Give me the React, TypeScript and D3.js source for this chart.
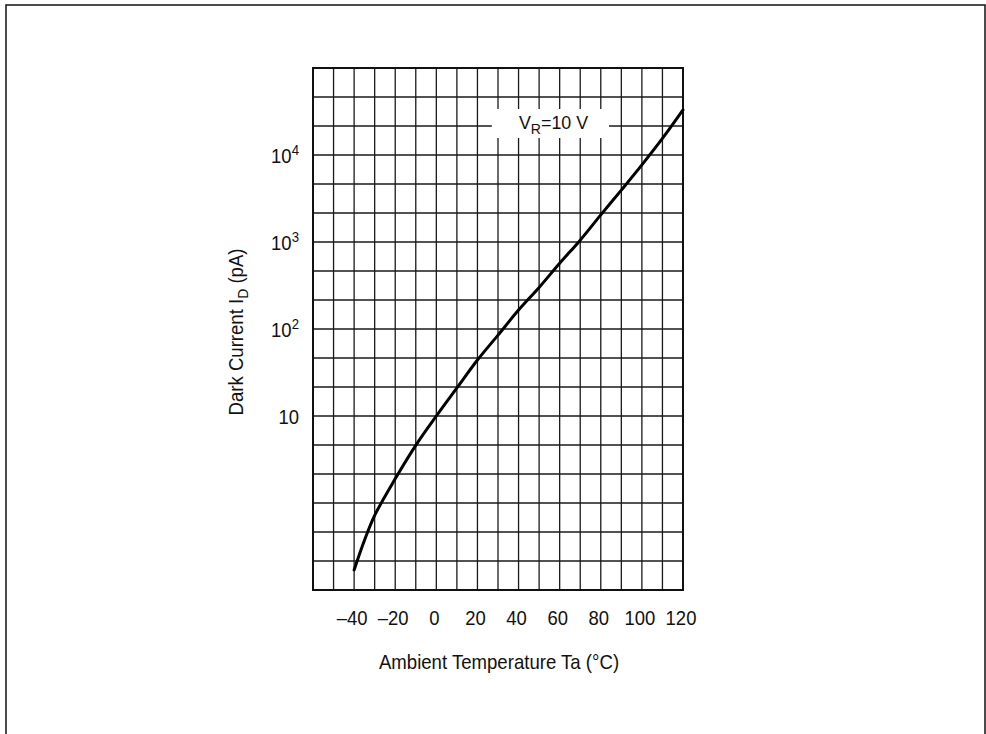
import React, { useEffect, useRef } from "react";
import * as d3 from "d3";

// ---------- Data ----------
const temperatures = [-40, -35, -30, -20, -10, 0, 10, 20, 30, 40, 50, 60, 70, 80, 90, 100, 110, 120];
const darkCurrent = [0.17, 0.37, 0.72, 1.9, 4.6, 10, 21, 44, 85, 165, 300, 570, 1050, 2050, 3950, 7700, 15500, 33000];

const xTicks = [-40, -20, 0, 20, 40, 60, 80, 100, 120];
const yDecadeTicks = [10, 100, 1000, 10000];
const yDecadeLabels = ["10", "10", "10", "10"];
const yDecadeExps = ["", "2", "3", "4"];

const legendText = { main: "V", sub: "R", rest: "=10 V" };

const FONT = "'Liberation Sans', Arial, Helvetica, sans-serif";

const W = 986;
const H = 734;

// condensed look: draw text horizontally squeezed
const addText = (
  parent: d3.Selection<SVGGElement, unknown, null, undefined>,
  x: number,
  y: number,
  size: number,
  sx: number,
  anchor: string,
  rotate = 0
) =>
  parent
    .append("text")
    .attr("transform", `translate(${x},${y}) rotate(${rotate}) scale(${sx},1)`)
    .attr("text-anchor", anchor)
    .attr("font-family", FONT)
    .attr("font-size", size)
    .attr("fill", "#111");

const App: React.FC = () => {
  const svgRef = useRef<SVGSVGElement | null>(null);

  useEffect(() => {
    document.body.style.margin = "0";
    const svg = d3.select(svgRef.current);
    svg.selectAll("*").remove();

    const left = 313;
    const right = 683;
    const top = 68;
    const bottom = 590;

    const x = d3.scaleLinear().domain([-60, 120]).range([left, right]);
    const y = d3.scaleLog().domain([0.1, 1e5]).range([bottom, top]);

    svg.append("rect").attr("width", W).attr("height", H).attr("fill", "#fff");

    // outer frame
    svg
      .append("rect")
      .attr("x", 6)
      .attr("y", 5)
      .attr("width", 979)
      .attr("height", 900)
      .attr("fill", "none")
      .attr("stroke", "#111")
      .attr("stroke-width", 1.5);

    const g = svg.append("g") as d3.Selection<SVGGElement, unknown, null, undefined>;

    // grid: every 10 degC, 3 lines per decade
    const vLines = d3.range(-50, 120, 10);
    const hLines = d3.range(-2, 15).map((k) => Math.pow(10, k / 3));

    g.selectAll("line.v")
      .data(vLines)
      .enter()
      .append("line")
      .attr("x1", (d) => x(d))
      .attr("x2", (d) => x(d))
      .attr("y1", top)
      .attr("y2", bottom)
      .attr("stroke", "#1a1a1a")
      .attr("stroke-width", 1.3);

    g.selectAll("line.h")
      .data(hLines)
      .enter()
      .append("line")
      .attr("x1", left)
      .attr("x2", right)
      .attr("y1", (d) => y(d))
      .attr("y2", (d) => y(d))
      .attr("stroke", "#1a1a1a")
      .attr("stroke-width", 1.3);

    g.append("rect")
      .attr("x", left)
      .attr("y", top)
      .attr("width", right - left)
      .attr("height", bottom - top)
      .attr("fill", "none")
      .attr("stroke", "#111")
      .attr("stroke-width", 2);

    // legend label with white background over the grid
    const legendY = y(Math.pow(10, 4 + 1 / 3));
    g.append("rect")
      .attr("x", x(27))
      .attr("y", legendY - 17)
      .attr("width", x(84) - x(27))
      .attr("height", 29)
      .attr("fill", "#fff");

    const lt = addText(g, x(57), legendY + 3, 19, 0.94, "middle");
    lt.append("tspan").text(legendText.main);
    lt.append("tspan").attr("dy", 5).attr("font-size", 15).text(legendText.sub);
    lt.append("tspan").attr("dy", -5).text(legendText.rest);

    // curve
    const line = d3
      .line<number>()
      .x((_, i) => x(temperatures[i]))
      .y((d) => y(d))
      .curve(d3.curveCatmullRom.alpha(0.5));

    g.append("path")
      .datum(darkCurrent)
      .attr("fill", "none")
      .attr("stroke", "#000")
      .attr("stroke-width", 3)
      .attr("stroke-linecap", "round")
      .attr("d", line);

    // x tick labels
    xTicks.forEach((d) => {
      addText(g, x(d) - 2, bottom + 35, 21, 0.88, "middle").text(
        d < 0 ? "\u2013" + Math.abs(d) : String(d)
      );
    });

    // y tick labels
    yDecadeTicks.forEach((v, i) => {
      const t = addText(g, left - 14, y(v) + 8, 21, 0.88, "end");
      t.append("tspan").text(yDecadeLabels[i]);
      if (yDecadeExps[i]) {
        t.append("tspan").attr("dy", -8).attr("font-size", 15).text(yDecadeExps[i]);
      }
    });

    // axis titles
    addText(g, 499, 669, 20, 0.93, "middle").text("Ambient Temperature  Ta (\u00B0C)");

    const yt = addText(g, 243, 332, 20, 0.93, "middle", -90);
    yt.append("tspan").text("Dark Current  I");
    yt.append("tspan").attr("dy", 5).attr("font-size", 15).text("D");
    yt.append("tspan").attr("dy", -5).text(" (pA)");
  }, []);

  return <svg ref={svgRef} width={W} height={H} style={{ display: "block" }} />;
};

export default App;
